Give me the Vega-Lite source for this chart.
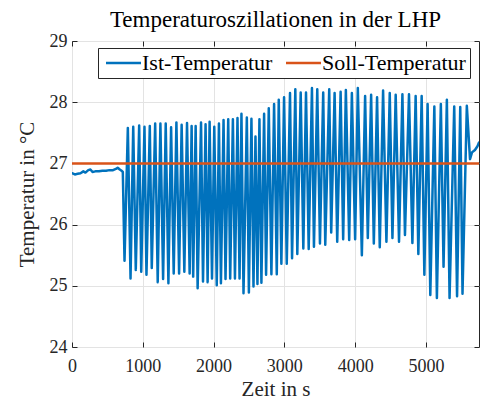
{
  "$schema": "https://vega.github.io/schema/vega-lite/v6.json",
  "width": 407,
  "height": 306,
  "autosize": {"type": "none"},
  "padding": {"left": 72, "top": 41, "right": 1, "bottom": 52},
  "background": "white",
  "title": {"text": "Temperaturoszillationen in der LHP", "font": "Liberation Serif", "fontSize": 23, "fontWeight": "normal", "color": "#000000", "anchor": "middle", "frame": "group", "offset": 0},
  "config": {
    "font": "Liberation Serif",
    "view": {"stroke": "#262626", "strokeWidth": 1},
    "axis": {
      "labelFont": "Liberation Serif", "labelFontSize": 18, "labelColor": "#262626",
      "titleFont": "Liberation Serif", "titleFontSize": 21, "titleFontWeight": "normal", "titleColor": "#262626",
      "domainColor": "#262626", "tickColor": "#262626", "tickSize": -5,
      "gridColor": "#e3e3e3", "gridWidth": 1, "labelFlush": false, "labelOverlap": false
    },
    "legend": {"labelFont": "Liberation Serif", "titleFont": "Liberation Serif"}
  },
  "data": {"values": [
    {"t": 0, "T": 26.84, "s": "Ist-Temperatur"},
    {"t": 40, "T": 26.82, "s": "Ist-Temperatur"},
    {"t": 80, "T": 26.83, "s": "Ist-Temperatur"},
    {"t": 120, "T": 26.84, "s": "Ist-Temperatur"},
    {"t": 160, "T": 26.87, "s": "Ist-Temperatur"},
    {"t": 190, "T": 26.85, "s": "Ist-Temperatur"},
    {"t": 230, "T": 26.89, "s": "Ist-Temperatur"},
    {"t": 260, "T": 26.9, "s": "Ist-Temperatur"},
    {"t": 290, "T": 26.86, "s": "Ist-Temperatur"},
    {"t": 330, "T": 26.87, "s": "Ist-Temperatur"},
    {"t": 380, "T": 26.87, "s": "Ist-Temperatur"},
    {"t": 430, "T": 26.88, "s": "Ist-Temperatur"},
    {"t": 480, "T": 26.88, "s": "Ist-Temperatur"},
    {"t": 530, "T": 26.89, "s": "Ist-Temperatur"},
    {"t": 580, "T": 26.89, "s": "Ist-Temperatur"},
    {"t": 620, "T": 26.91, "s": "Ist-Temperatur"},
    {"t": 645, "T": 26.93, "s": "Ist-Temperatur"},
    {"t": 675, "T": 26.9, "s": "Ist-Temperatur"},
    {"t": 700, "T": 26.88, "s": "Ist-Temperatur"},
    {"t": 718, "T": 26.86, "s": "Ist-Temperatur"},
    {"t": 742, "T": 25.41, "s": "Ist-Temperatur"},
    {"t": 789, "T": 27.58, "s": "Ist-Temperatur"},
    {"t": 827, "T": 25.12, "s": "Ist-Temperatur"},
    {"t": 865, "T": 27.6, "s": "Ist-Temperatur"},
    {"t": 901, "T": 25.26, "s": "Ist-Temperatur"},
    {"t": 949, "T": 27.62, "s": "Ist-Temperatur"},
    {"t": 978, "T": 25.23, "s": "Ist-Temperatur"},
    {"t": 1024, "T": 27.6, "s": "Ist-Temperatur"},
    {"t": 1052, "T": 25.18, "s": "Ist-Temperatur"},
    {"t": 1099, "T": 27.61, "s": "Ist-Temperatur"},
    {"t": 1127, "T": 25.29, "s": "Ist-Temperatur"},
    {"t": 1175, "T": 27.65, "s": "Ist-Temperatur"},
    {"t": 1211, "T": 25.06, "s": "Ist-Temperatur"},
    {"t": 1249, "T": 27.65, "s": "Ist-Temperatur"},
    {"t": 1287, "T": 25.11, "s": "Ist-Temperatur"},
    {"t": 1324, "T": 27.65, "s": "Ist-Temperatur"},
    {"t": 1362, "T": 25.04, "s": "Ist-Temperatur"},
    {"t": 1400, "T": 27.59, "s": "Ist-Temperatur"},
    {"t": 1437, "T": 25.2, "s": "Ist-Temperatur"},
    {"t": 1475, "T": 27.67, "s": "Ist-Temperatur"},
    {"t": 1513, "T": 25.2, "s": "Ist-Temperatur"},
    {"t": 1549, "T": 27.63, "s": "Ist-Temperatur"},
    {"t": 1587, "T": 25.23, "s": "Ist-Temperatur"},
    {"t": 1625, "T": 27.66, "s": "Ist-Temperatur"},
    {"t": 1662, "T": 25.2, "s": "Ist-Temperatur"},
    {"t": 1690, "T": 27.61, "s": "Ist-Temperatur"},
    {"t": 1712, "T": 25.15, "s": "Ist-Temperatur"},
    {"t": 1747, "T": 27.61, "s": "Ist-Temperatur"},
    {"t": 1775, "T": 24.96, "s": "Ist-Temperatur"},
    {"t": 1823, "T": 27.67, "s": "Ist-Temperatur"},
    {"t": 1851, "T": 25.07, "s": "Ist-Temperatur"},
    {"t": 1887, "T": 27.64, "s": "Ist-Temperatur"},
    {"t": 1916, "T": 25.06, "s": "Ist-Temperatur"},
    {"t": 1944, "T": 27.68, "s": "Ist-Temperatur"},
    {"t": 1978, "T": 25.12, "s": "Ist-Temperatur"},
    {"t": 2010, "T": 27.6, "s": "Ist-Temperatur"},
    {"t": 2045, "T": 25.01, "s": "Ist-Temperatur"},
    {"t": 2076, "T": 27.65, "s": "Ist-Temperatur"},
    {"t": 2104, "T": 25.04, "s": "Ist-Temperatur"},
    {"t": 2141, "T": 27.71, "s": "Ist-Temperatur"},
    {"t": 2169, "T": 25.11, "s": "Ist-Temperatur"},
    {"t": 2207, "T": 27.72, "s": "Ist-Temperatur"},
    {"t": 2235, "T": 25.12, "s": "Ist-Temperatur"},
    {"t": 2273, "T": 27.72, "s": "Ist-Temperatur"},
    {"t": 2302, "T": 25.12, "s": "Ist-Temperatur"},
    {"t": 2338, "T": 27.74, "s": "Ist-Temperatur"},
    {"t": 2367, "T": 25.12, "s": "Ist-Temperatur"},
    {"t": 2394, "T": 27.81, "s": "Ist-Temperatur"},
    {"t": 2423, "T": 24.88, "s": "Ist-Temperatur"},
    {"t": 2470, "T": 27.75, "s": "Ist-Temperatur"},
    {"t": 2499, "T": 24.89, "s": "Ist-Temperatur"},
    {"t": 2535, "T": 27.73, "s": "Ist-Temperatur"},
    {"t": 2564, "T": 24.99, "s": "Ist-Temperatur"},
    {"t": 2592, "T": 27.44, "s": "Ist-Temperatur"},
    {"t": 2620, "T": 25.03, "s": "Ist-Temperatur"},
    {"t": 2648, "T": 27.72, "s": "Ist-Temperatur"},
    {"t": 2676, "T": 25.05, "s": "Ist-Temperatur"},
    {"t": 2714, "T": 27.81, "s": "Ist-Temperatur"},
    {"t": 2742, "T": 25.18, "s": "Ist-Temperatur"},
    {"t": 2780, "T": 27.9, "s": "Ist-Temperatur"},
    {"t": 2817, "T": 25.19, "s": "Ist-Temperatur"},
    {"t": 2855, "T": 27.97, "s": "Ist-Temperatur"},
    {"t": 2893, "T": 25.19, "s": "Ist-Temperatur"},
    {"t": 2921, "T": 28.04, "s": "Ist-Temperatur"},
    {"t": 2958, "T": 25.36, "s": "Ist-Temperatur"},
    {"t": 2996, "T": 28.08, "s": "Ist-Temperatur"},
    {"t": 3034, "T": 25.36, "s": "Ist-Temperatur"},
    {"t": 3080, "T": 28.15, "s": "Ist-Temperatur"},
    {"t": 3109, "T": 25.45, "s": "Ist-Temperatur"},
    {"t": 3155, "T": 28.21, "s": "Ist-Temperatur"},
    {"t": 3183, "T": 25.52, "s": "Ist-Temperatur"},
    {"t": 3231, "T": 28.16, "s": "Ist-Temperatur"},
    {"t": 3268, "T": 25.61, "s": "Ist-Temperatur"},
    {"t": 3306, "T": 28.16, "s": "Ist-Temperatur"},
    {"t": 3344, "T": 25.6, "s": "Ist-Temperatur"},
    {"t": 3390, "T": 28.23, "s": "Ist-Temperatur"},
    {"t": 3418, "T": 25.64, "s": "Ist-Temperatur"},
    {"t": 3465, "T": 28.21, "s": "Ist-Temperatur"},
    {"t": 3503, "T": 25.69, "s": "Ist-Temperatur"},
    {"t": 3549, "T": 28.16, "s": "Ist-Temperatur"},
    {"t": 3578, "T": 25.67, "s": "Ist-Temperatur"},
    {"t": 3634, "T": 28.21, "s": "Ist-Temperatur"},
    {"t": 3662, "T": 25.87, "s": "Ist-Temperatur"},
    {"t": 3710, "T": 28.15, "s": "Ist-Temperatur"},
    {"t": 3747, "T": 25.72, "s": "Ist-Temperatur"},
    {"t": 3795, "T": 28.17, "s": "Ist-Temperatur"},
    {"t": 3831, "T": 25.76, "s": "Ist-Temperatur"},
    {"t": 3869, "T": 28.2, "s": "Ist-Temperatur"},
    {"t": 3916, "T": 25.75, "s": "Ist-Temperatur"},
    {"t": 3954, "T": 28.15, "s": "Ist-Temperatur"},
    {"t": 4000, "T": 25.76, "s": "Ist-Temperatur"},
    {"t": 4038, "T": 28.23, "s": "Ist-Temperatur"},
    {"t": 4095, "T": 25.5, "s": "Ist-Temperatur"},
    {"t": 4141, "T": 28.1, "s": "Ist-Temperatur"},
    {"t": 4179, "T": 25.78, "s": "Ist-Temperatur"},
    {"t": 4226, "T": 28.12, "s": "Ist-Temperatur"},
    {"t": 4264, "T": 25.69, "s": "Ist-Temperatur"},
    {"t": 4310, "T": 28.08, "s": "Ist-Temperatur"},
    {"t": 4348, "T": 25.63, "s": "Ist-Temperatur"},
    {"t": 4395, "T": 28.19, "s": "Ist-Temperatur"},
    {"t": 4442, "T": 25.72, "s": "Ist-Temperatur"},
    {"t": 4489, "T": 28.15, "s": "Ist-Temperatur"},
    {"t": 4527, "T": 25.78, "s": "Ist-Temperatur"},
    {"t": 4573, "T": 28.12, "s": "Ist-Temperatur"},
    {"t": 4620, "T": 25.72, "s": "Ist-Temperatur"},
    {"t": 4668, "T": 28.13, "s": "Ist-Temperatur"},
    {"t": 4704, "T": 25.83, "s": "Ist-Temperatur"},
    {"t": 4761, "T": 28.13, "s": "Ist-Temperatur"},
    {"t": 4809, "T": 25.7, "s": "Ist-Temperatur"},
    {"t": 4855, "T": 28.1, "s": "Ist-Temperatur"},
    {"t": 4893, "T": 25.52, "s": "Ist-Temperatur"},
    {"t": 4940, "T": 28.1, "s": "Ist-Temperatur"},
    {"t": 4978, "T": 25.18, "s": "Ist-Temperatur"},
    {"t": 5024, "T": 27.97, "s": "Ist-Temperatur"},
    {"t": 5062, "T": 24.85, "s": "Ist-Temperatur"},
    {"t": 5119, "T": 27.93, "s": "Ist-Temperatur"},
    {"t": 5155, "T": 24.8, "s": "Ist-Temperatur"},
    {"t": 5211, "T": 27.97, "s": "Ist-Temperatur"},
    {"t": 5249, "T": 25.31, "s": "Ist-Temperatur"},
    {"t": 5296, "T": 28.04, "s": "Ist-Temperatur"},
    {"t": 5334, "T": 24.8, "s": "Ist-Temperatur"},
    {"t": 5400, "T": 27.93, "s": "Ist-Temperatur"},
    {"t": 5440, "T": 24.83, "s": "Ist-Temperatur"},
    {"t": 5485, "T": 27.92, "s": "Ist-Temperatur"},
    {"t": 5517, "T": 24.87, "s": "Ist-Temperatur"},
    {"t": 5578, "T": 27.94, "s": "Ist-Temperatur"},
    {"t": 5623, "T": 27.07, "s": "Ist-Temperatur"},
    {"t": 5651, "T": 27.18, "s": "Ist-Temperatur"},
    {"t": 5693, "T": 27.22, "s": "Ist-Temperatur"},
    {"t": 5728, "T": 27.28, "s": "Ist-Temperatur"},
    {"t": 5750, "T": 27.34, "s": "Ist-Temperatur"},
    {"t": 0, "T": 27, "s": "Soll-Temperatur"},
    {"t": 5750, "T": 27, "s": "Soll-Temperatur"}
  ]},
  "layer": [
    {
      "transform": [{"filter": "datum.s == 'Ist-Temperatur'"}],
      "mark": {"type": "line", "strokeWidth": 2.5, "clip": true, "strokeJoin": "round", "strokeCap": "round"},
      "encoding": {
        "x": {"field": "t", "type": "quantitative", "scale": {"domain": [0, 5750], "nice": false, "zero": false},
              "axis": {"values": [0, 1000, 2000, 3000, 4000, 5000], "format": "d", "title": "Zeit in s", "grid": true, "labelPadding": 15, "labelFont": "Liberation Serif", "titleY": 48, "titleBaseline": "alphabetic", "domain": false,
                       "encode": {"labels": {"update": {"font": {"value": "Liberation Serif"}}}}}},
        "y": {"field": "T", "type": "quantitative", "scale": {"domain": [24, 29], "nice": false, "zero": false},
              "axis": {"values": [24, 25, 26, 27, 28, 29], "format": "d", "title": "Temperatur in °C", "grid": true, "labelPadding": 10, "labelFont": "Liberation Serif", "titleX": -39, "titleY": 153, "titleBaseline": "alphabetic", "titleAngle": -90, "titleAlign": "center", "domain": false,
                       "encode": {"labels": {"update": {"font": {"value": "Liberation Serif"}}}}}},
        "color": {"field": "s", "type": "nominal",
                  "scale": {"domain": ["Ist-Temperatur", "Soll-Temperatur"], "range": ["#0072BD", "#D95319"]},
                  "legend": {"orient": "none", "legendX": 26, "legendY": 7, "direction": "horizontal", "columns": 2, "title": null,
                             "symbolType": "M-1,0L4,0", "symbolSize": 196, "symbolStrokeWidth": 2.5,
                             "labelFont": "Liberation Serif", "labelFontSize": 22, "labelColor": "#000000", "labelLimit": 300,
                             "strokeColor": "#262626", "fillColor": "white", "padding": 4, "columnPadding": 8, "labelOffset": 18,
                             "encode": {"labels": {"update": {"font": {"value": "Liberation Serif"}}}}}}
      }
    },
    {
      "transform": [{"filter": "datum.s == 'Soll-Temperatur'"}],
      "mark": {"type": "line", "strokeWidth": 2.5, "clip": true},
      "encoding": {
        "x": {"field": "t", "type": "quantitative",
              "axis": {"orient": "top", "values": [0, 1000, 2000, 3000, 4000, 5000], "labels": false, "title": null, "grid": false, "domain": false}},
        "y": {"field": "T", "type": "quantitative",
              "axis": {"orient": "right", "values": [24, 25, 26, 27, 28, 29], "labels": false, "title": null, "grid": false, "domain": false}},
        "color": {"field": "s", "type": "nominal"}
      }
    }
  ],
  "resolve": {"axis": {"x": "independent", "y": "independent"}}
}
